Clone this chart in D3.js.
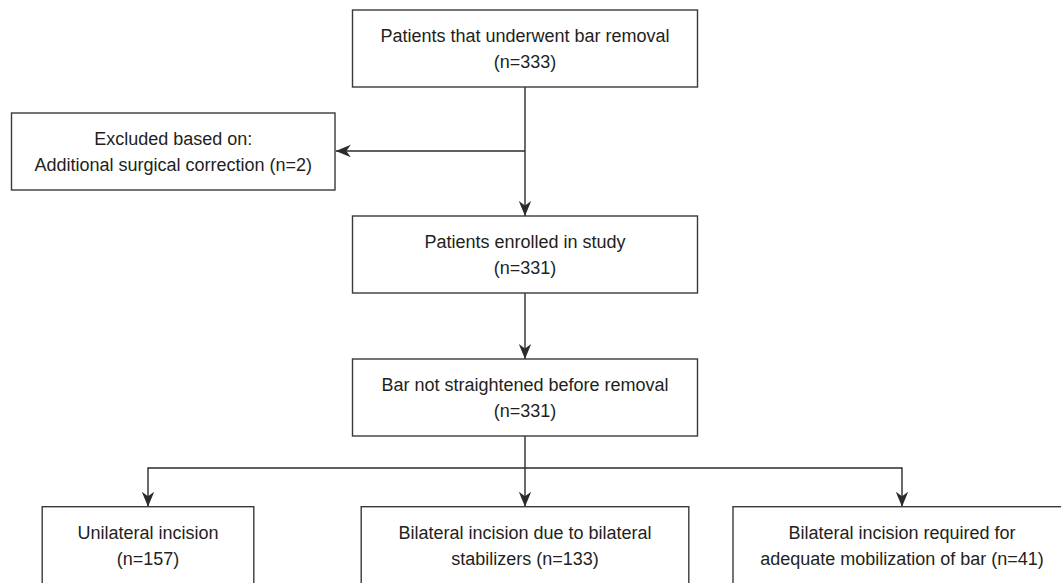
<!DOCTYPE html>
<html>
<head>
<meta charset="utf-8">
<script src="https://cdn.jsdelivr.net/npm/d3@7"></script>
<style>
  html, body { margin: 0; padding: 0; background: #fff; overflow: hidden; }
  text { font-family: "Liberation Sans", Arial, Helvetica, sans-serif; font-size: 18px; fill: #231f20; }
</style>
</head>
<body>
<div id="main"></div>
<script>
// flow steps down the middle
var stepLabels = [["Patients that underwent bar removal"], ["Patients enrolled in study"], ["Bar not straightened before removal"]];
var stepCounts = [333, 331, 331];

// side exclusion
var excludedLabel = ["Excluded based on:", "Additional surgical correction"];
var excludedCount = 2;

// final split
var groupLabels = [["Unilateral incision"], ["Bilateral incision due to bilateral", "stabilizers"], ["Bilateral incision required for", "adequate mobilization of bar"]];
var groupCounts = [157, 133, 41];

var W = 1061, H = 583;
var boxH = 77, lineGap = 25.6;
var ink = '#2b2b2b';

// one line of label -> count goes on its own line; otherwise it is tacked on the end
function lines(label, n) {
  var out = label.slice();
  if (out.length === 1) out.push('(n=' + n + ')');
  else out[out.length - 1] += ' (n=' + n + ')';
  return out;
}

var svg = d3.select('#main').append('svg')
  .attr('width', W).attr('height', H);

svg.append('defs').append('marker')
  .attr('id', 'head')
  .attr('markerUnits', 'userSpaceOnUse')
  .attr('viewBox', '-16 -8 17 16')
  .attr('refX', 0).attr('refY', 0)
  .attr('markerWidth', 17).attr('markerHeight', 16)
  .attr('orient', 'auto')
  .append('path')
  .attr('d', 'M0,0 L-15,-6.2 L-10.5,0 L-15,6.2 Z')
  .attr('fill', ink);

// columns of the last row; the middle one is also the main spine
var groupX = d3.scalePoint().domain(d3.range(groupLabels.length)).range([148, 902]);
var midX = groupX(1);
var groupW = [211.6, 327.6, 338];
var stepW = 345;
var stepY = d3.scaleOrdinal().domain(d3.range(stepLabels.length)).range([10, 216, 359]);
var groupY = 506.7;
var branchY = 468;

var exBox = { x: 11.5, y: 113, w: 323.5, h: boxH };
var exArrowY = exBox.y + boxH / 2 - 0.5;

var boxes = [];
stepLabels.forEach(function(l, i) {
  boxes.push({ x: midX - stepW / 2, y: stepY(i), w: stepW, h: boxH, lines: lines(l, stepCounts[i]) });
});
boxes.push({ x: exBox.x, y: exBox.y, w: exBox.w, h: exBox.h, lines: lines(excludedLabel, excludedCount) });
groupLabels.forEach(function(l, i) {
  boxes.push({ x: groupX(i) - groupW[i] / 2, y: groupY, w: groupW[i], h: boxH, lines: lines(l, groupCounts[i]) });
});

var line = d3.line();

// connectors, every one ends in a head
var links = [
  [[midX, stepY(0) + boxH], [midX, stepY(1)]],
  [[midX, exArrowY], [exBox.x + exBox.w + 0.8, exArrowY]],
  [[midX, stepY(1) + boxH], [midX, stepY(2)]]
];
groupLabels.forEach(function(l, i) {
  var x = groupX(i);
  if (i === 1) links.push([[midX, stepY(2) + boxH], [x, groupY]]);
  else links.push([[midX, branchY], [x, branchY], [x, groupY]]);
});

svg.append('g').selectAll('path').data(links)
  .enter().append('path')
  .attr('d', function(d) { return line(d); })
  .attr('fill', 'none')
  .attr('stroke', ink)
  .attr('stroke-width', 1.4)
  .attr('marker-end', 'url(#head)');

var g = svg.append('g').selectAll('g').data(boxes)
  .enter().append('g');

g.append('rect')
  .attr('x', function(d) { return d.x; })
  .attr('y', function(d) { return d.y; })
  .attr('width', function(d) { return d.w; })
  .attr('height', function(d) { return d.h; })
  .attr('fill', '#fff')
  .attr('stroke', '#3a3a3a')
  .attr('stroke-width', 1.4);

g.each(function(d) {
  var n = d.lines.length;
  d3.select(this).selectAll('text').data(d.lines)
    .enter().append('text')
    .attr('x', d.x + d.w / 2)
    .attr('y', function(t, j) { return d.y + d.h / 2 + (j - (n - 1) / 2) * lineGap + 6.5; })
    .attr('text-anchor', 'middle')
    .text(function(t) { return t; });
});
</script>
</body>
</html>
